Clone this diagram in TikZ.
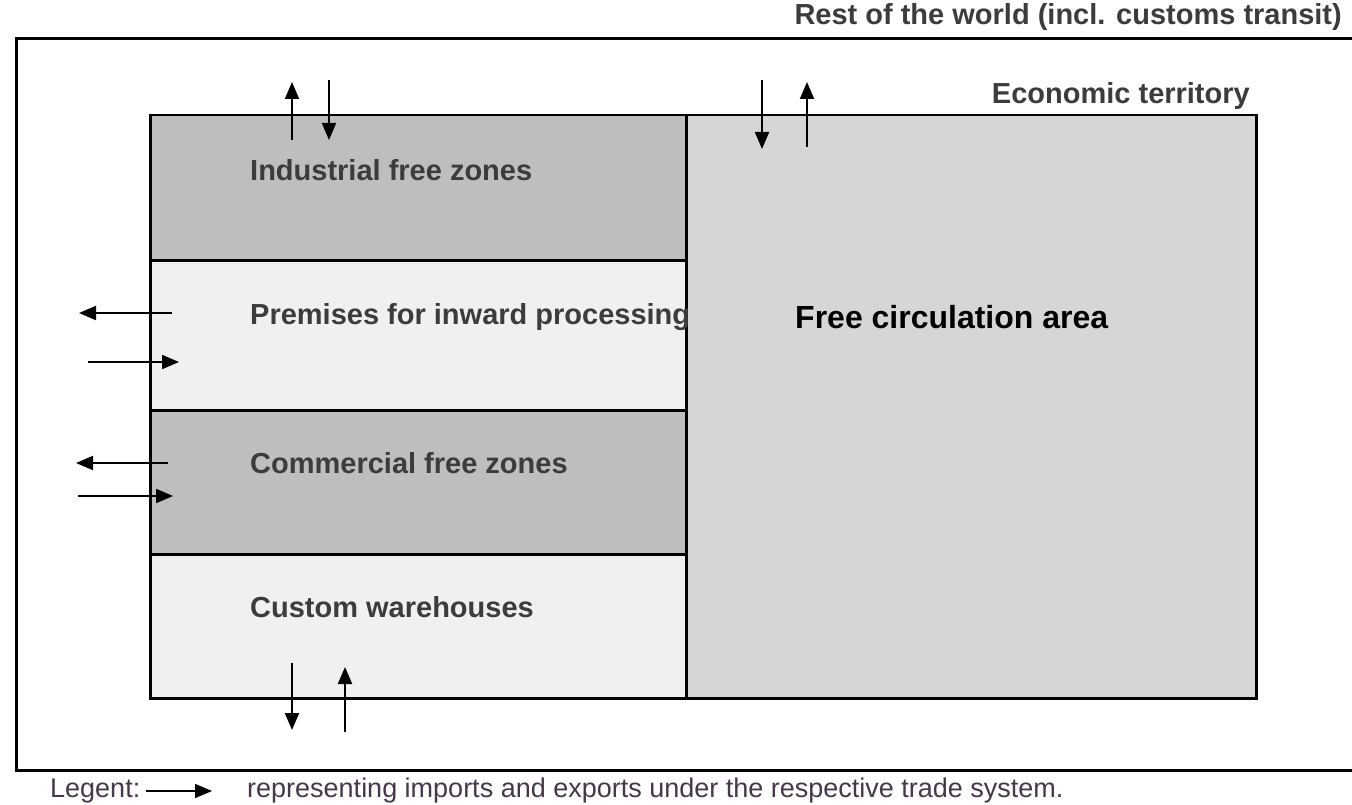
\documentclass[tikz,border=0pt]{standalone}
\usepackage{fontspec}
\setmainfont{Liberation Sans}
\usetikzlibrary{arrows.meta}

\definecolor{zonedark}{RGB}{190,190,190}
\definecolor{zonelight}{RGB}{240,240,240}
\definecolor{freearea}{RGB}{214,214,214}
\definecolor{labelgray}{RGB}{60,60,60}
\definecolor{legendgray}{RGB}{70,55,75}

\begin{document}
\begin{tikzpicture}[x=1pt,y=-1pt,
  zone/.style={draw=black,line width=2.5pt,anchor=north west,inner sep=0pt,minimum width=536pt},
  zonelabel/.style={anchor=west,inner sep=0pt,text=labelgray,font=\bfseries\fontsize{29}{29}\selectfont},
  flow/.style={line width=2pt,-{Triangle[length=17pt,width=14pt]}}]
  \useasboundingbox (0,0) rectangle (1352,805);
  \fill[white] (0,0) rectangle (1352,805);

  % rest of the world (open to the right)
  \draw[line width=3pt] (1352,39) -- (16,39) -- (16,770) -- (1352,770);
  \node[anchor=east,inner sep=0pt,text=labelgray,font=\bfseries\fontsize{29}{29}\selectfont] (world) at (1342,17) {Rest of the world (incl. customs transit)};

  % economic territory
  \node[draw=black,line width=2.5pt,fill=freearea,anchor=north west,inner sep=0pt,minimum width=570pt,minimum height=583pt] (free) at (685,114) {};
  \node[zone,fill=zonedark,minimum height=145pt] (ind) at (149,114) {};
  \node[zone,fill=zonelight,minimum height=150pt] (prem) at (149,259) {};
  \node[zone,fill=zonedark,minimum height=144pt] (comm) at (149,409) {};
  \node[zone,fill=zonelight,minimum height=144pt] (ware) at (149,553) {};
  \node[anchor=east,inner sep=0pt,text=labelgray,font=\bfseries\fontsize{29}{29}\selectfont] (econ) at (1250,96) {Economic territory};

  \node[zonelabel] (indlbl) at (250,170) {Industrial free zones};
  \node[zonelabel] (premlbl) at (250,317) {Premises for inward processing};
  \node[zonelabel] (commlbl) at (250,463) {Commercial free zones};
  \node[zonelabel] (warelbl) at (250,607) {Custom warehouses};
  \node[anchor=west,inner sep=0pt,font=\bfseries\fontsize{32}{32}\selectfont] (freelbl) at (795,317) {Free circulation area};

  % imports and exports
  \foreach \n/\xa/\ya/\xb/\yb in {1/292/140/292/82, 2/329/80/329/140, 3/762/80/762/149, 4/807/147/807/82,
      5/292/663/292/730, 6/345/732/345/667, 7/172/313/79/313, 8/88/362/179/362,
      9/168/463/76/463, 10/78/496/173/496}{
    \coordinate (from\n) at (\xa,\ya);
    \coordinate (to\n) at (\xb,\yb);
    \draw[flow] (from\n) -- (to\n);
  }

  % legend
  \node[anchor=west,inner sep=0pt,text=legendgray,font=\fontsize{27}{27}\selectfont] (legent) at (50,791) {Legent:};
  \coordinate (legto) at (212,791);
  \draw[flow,line width=1.5pt] (legent.east) ++(6,0) coordinate (legfrom) (legfrom) -- (legto);
  \node[anchor=west,inner sep=0pt,text=legendgray,font=\fontsize{27}{27}\selectfont] (legtext) at (247,791) {representing imports and exports under the respective trade system.};
\end{tikzpicture}
\end{document}
